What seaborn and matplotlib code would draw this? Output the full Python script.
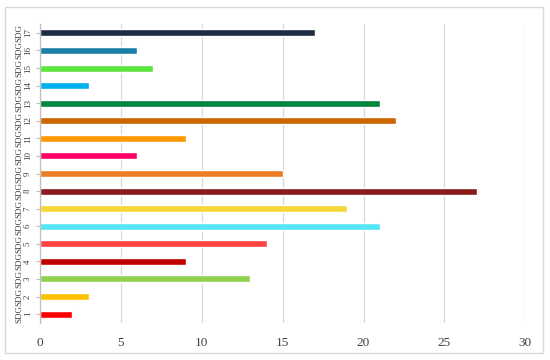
import matplotlib

matplotlib.use("Agg")
import matplotlib.pyplot as plt
import pandas as pd
import seaborn as sns
from matplotlib.patches import Rectangle

GOALS = [f"SDG {i}" for i in range(1, 18)]
COUNTS = [2, 3, 13, 9, 14, 21, 19, 27, 15, 6, 9, 22, 21, 3, 7, 6, 17]
COLORS = ["#FF0000", "#FFC000", "#92D050", "#C00000", "#FF4343", "#55E6F5",
          "#F5D73A", "#8B1A1A", "#ED7D22", "#FF0066", "#FF9900", "#CC6600",
          "#00843D", "#00B0F0", "#5CE63C", "#1A7FA8", "#1F2A44"]

sns.set_style("white")
plt.rcParams["font.family"] = ["Liberation Serif", "DejaVu Serif"]

d = pd.DataFrame({"goal": GOALS, "count": COUNTS})
order = GOALS[::-1]

fig = plt.figure(figsize=(5.5, 3.6), dpi=100)
ax = fig.add_axes([0.073, 0.103, 0.882, 0.830])
sns.barplot(data=d, y="goal", x="count", hue="goal", order=order, hue_order=GOALS,
            palette=dict(zip(GOALS, COLORS)), width=0.4, saturation=1,
            legend=False, ax=ax)

ax.set_xlim(0, 30)
ax.set_ylim(16.5, -0.5)
ax.set_xticks(range(0, 31, 5))
ax.set_xlabel("")
ax.set_ylabel("")
ax.grid(True, axis="x", color="#d9d9d9", lw=0.9)
ax.set_axisbelow(True)
for s in ("top", "right", "bottom"):
    ax.spines[s].set_visible(False)
ax.spines["left"].set_color("#bfbfbf")
ax.spines["left"].set_linewidth(0.9)
ax.tick_params(axis="x", length=0, labelsize=9.5, pad=10, colors="#404040")
ax.tick_params(axis="y", left=True, length=3, color="#bfbfbf", pad=9,
               labelcolor="#404040")
# two-line labels ("SDG" over the number), turned to read bottom-up
ax.set_yticks(range(len(order)))
ax.set_yticklabels([g.replace(" ", "\n") for g in order], rotation=90,
                   va="center", ha="center", multialignment="center",
                   fontsize=6.5, linespacing=1.1)

fig.patches.append(Rectangle((0.009, 0.019), 0.978, 0.961, transform=fig.transFigure,
                             fill=False, edgecolor="#d9d9d9", lw=1.0))
fig.savefig("out.png", dpi=100)
